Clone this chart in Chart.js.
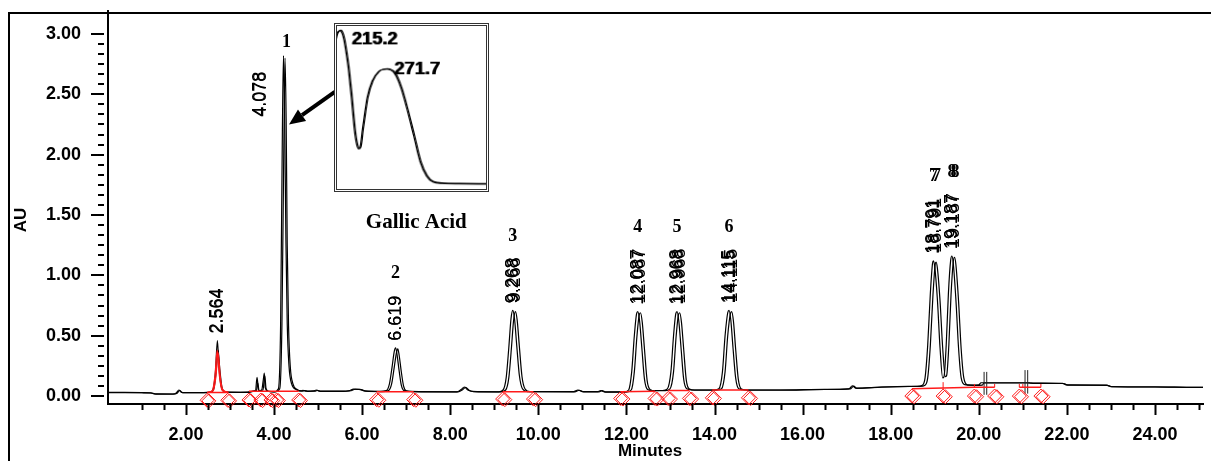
<!DOCTYPE html>
<html><head><meta charset="utf-8">
<script src="https://cdn.jsdelivr.net/npm/chart.js@4.4.1/dist/chart.umd.min.js"></script>
<style>
html,body{margin:0;padding:0;background:#fff;overflow:hidden;}
#wrap{position:relative;width:1211px;height:461px;overflow:hidden;}
#frame{position:absolute;left:8px;top:12px;width:1300px;height:600px;border-top:2px solid #000;border-left:2px solid #000;}
#main{position:absolute;left:0;top:0;}
#inset{position:absolute;left:334px;top:23px;border:3px double #333;background:#fff;}
</style></head><body>
<div id="wrap"><div id="frame"></div><canvas id="main" width="1211" height="461"></canvas><canvas id="inset" width="155" height="169"></canvas></div>
<script>
// ---- chromatogram, run A (minutes, AU) ----
const runATime = [0.23,0.60,1.00,1.20,1.30,1.70,1.78,1.84,1.90,2.00,2.40,2.55,2.62,2.67,2.715,2.75,2.80,2.88,3.00,3.40,3.52,3.58,3.615,3.65,3.72,3.755,3.78,3.80,3.86,4.00,4.10,4.15,4.19,4.215,4.24,4.27,4.30,4.34,4.40,4.50,4.62,4.66,4.72,4.90,4.96,5.02,5.50,5.72,5.80,5.95,6.05,6.40,6.55,6.62,6.68,6.73,6.76,6.79,6.84,6.89,6.95,7.10,8.15,8.25,8.32,8.40,8.50,9.10,9.20,9.27,9.33,9.38,9.42,9.46,9.51,9.57,9.64,9.75,10.80,10.90,11.00,11.35,11.42,11.50,11.95,12.05,12.12,12.18,12.23,12.26,12.30,12.35,12.41,12.48,12.60,12.82,12.93,13.01,13.07,13.12,13.15,13.19,13.24,13.30,13.37,13.50,14.00,14.10,14.18,14.24,14.30,14.33,14.37,14.42,14.48,14.55,14.70,15.50,16.50,17.05,17.13,17.20,17.80,18.40,18.60,18.72,18.78,18.84,18.90,18.95,18.97,19.00,19.06,19.12,19.18,19.21,19.26,19.31,19.36,19.39,19.42,19.48,19.54,19.60,19.68,19.85,20.00,20.05,21.10,21.20,21.90,22.00,22.90,23.00,24.00,24.90,25.09];
const runAAU   = [0.030,0.030,0.029,0.026,0.018,0.017,0.025,0.050,0.030,0.028,0.029,0.032,0.06,0.20,0.46,0.24,0.08,0.035,0.030,0.032,0.040,0.045,0.155,0.045,0.05,0.13,0.19,0.07,0.04,0.035,0.06,0.60,2.20,2.82,2.35,1.30,0.60,0.25,0.10,0.055,0.042,0.048,0.040,0.042,0.050,0.040,0.040,0.045,0.058,0.055,0.042,0.038,0.045,0.10,0.24,0.37,0.40,0.35,0.21,0.09,0.045,0.038,0.035,0.055,0.075,0.050,0.038,0.035,0.05,0.15,0.40,0.64,0.71,0.64,0.42,0.17,0.06,0.037,0.036,0.050,0.036,0.036,0.046,0.034,0.034,0.05,0.20,0.50,0.68,0.70,0.62,0.40,0.14,0.055,0.045,0.046,0.06,0.20,0.50,0.68,0.70,0.62,0.40,0.14,0.06,0.050,0.050,0.06,0.20,0.50,0.69,0.71,0.63,0.40,0.15,0.06,0.050,0.050,0.055,0.060,0.085,0.065,0.075,0.080,0.080,0.09,0.15,0.42,0.85,1.10,1.12,1.07,0.80,0.40,0.15,0.16,0.42,0.85,1.12,1.16,1.10,0.80,0.40,0.15,0.095,0.090,0.092,0.110,0.110,0.107,0.105,0.092,0.090,0.078,0.076,0.072,0.072];
// ---- chromatogram, run B ----
const runBTime = [0.23,0.60,1.00,1.22,1.32,1.72,1.80,1.86,1.92,2.40,2.57,2.64,2.69,2.73,2.77,2.82,2.90,3.40,3.55,3.60,3.63,3.66,3.75,3.79,3.82,3.88,4.02,4.13,4.18,4.225,4.25,4.275,4.30,4.33,4.37,4.43,4.53,4.64,4.70,4.76,4.93,4.99,5.05,5.50,5.75,5.84,5.98,6.08,6.45,6.60,6.67,6.73,6.78,6.81,6.84,6.89,6.94,7.00,7.15,8.18,8.28,8.35,8.43,8.53,9.15,9.26,9.33,9.39,9.44,9.48,9.52,9.57,9.63,9.70,9.81,10.83,10.93,11.03,11.38,11.45,11.53,12.00,12.11,12.18,12.24,12.29,12.32,12.36,12.41,12.47,12.54,12.65,12.88,12.99,13.07,13.13,13.18,13.21,13.25,13.30,13.36,13.43,13.55,14.05,14.16,14.24,14.30,14.36,14.39,14.43,14.48,14.54,14.61,14.75,15.50,16.50,17.08,17.16,17.23,17.80,18.45,18.66,18.78,18.84,18.90,18.96,19.01,19.03,19.06,19.12,19.18,19.24,19.27,19.32,19.37,19.42,19.45,19.48,19.54,19.60,19.66,19.74,19.90,20.08,20.12,21.15,21.25,21.92,22.02,22.92,23.02,24.00,24.90,25.09];
const runBAU   = [0.028,0.028,0.027,0.025,0.016,0.016,0.024,0.046,0.028,0.027,0.032,0.07,0.22,0.38,0.22,0.07,0.034,0.030,0.040,0.042,0.11,0.045,0.05,0.17,0.06,0.038,0.034,0.06,0.60,2.15,2.80,2.30,1.25,0.58,0.24,0.10,0.052,0.040,0.046,0.039,0.040,0.048,0.039,0.038,0.044,0.056,0.053,0.040,0.037,0.045,0.10,0.24,0.36,0.39,0.34,0.20,0.085,0.044,0.037,0.034,0.052,0.072,0.048,0.037,0.034,0.05,0.15,0.40,0.63,0.70,0.63,0.41,0.16,0.058,0.036,0.035,0.048,0.035,0.035,0.044,0.033,0.033,0.05,0.20,0.50,0.67,0.69,0.61,0.39,0.13,0.053,0.044,0.045,0.06,0.20,0.50,0.67,0.69,0.61,0.39,0.13,0.058,0.049,0.049,0.06,0.20,0.50,0.68,0.70,0.62,0.39,0.14,0.058,0.049,0.049,0.054,0.059,0.082,0.064,0.074,0.079,0.080,0.09,0.15,0.42,0.84,1.09,1.11,1.06,0.79,0.40,0.16,0.17,0.42,0.84,1.11,1.15,1.09,0.79,0.39,0.15,0.093,0.089,0.091,0.108,0.108,0.105,0.104,0.091,0.089,0.077,0.075,0.071,0.071];
// ---- integrated (red) peak at 2.564 ----
const redPeakTime = [2.48,2.60,2.66,2.71,2.76,2.82,2.95];
const redPeakAU   = [0.030,0.045,0.17,0.38,0.17,0.05,0.030];
const redPeakBTime = [2.50,2.62,2.68,2.73,2.78,2.84,2.97];
const redPeakBAU   = [0.030,0.045,0.16,0.36,0.16,0.05,0.030];
// ---- integration baselines (red) ----
const baseStartTime = [2.48,3.43,6.33,9.19,11.87,12.95,13.95,18.48,19.90,20.92];
const baseEndTime   = [2.95,4.56,7.17,9.89,12.65,13.43,14.77,19.90,20.36,21.41];
const baseStartAU   = [0.030,0.040,0.035,0.035,0.035,0.045,0.050,0.060,0.072,0.072];
const baseEndAU     = [0.030,0.040,0.035,0.035,0.040,0.045,0.050,0.072,0.072,0.072];
// ---- red event ticks ----
const redTickTime = [19.19,19.90,20.36,20.92,21.00,21.41];
const redTickLow  = [0.060,0.072,0.072,0.072,0.072,0.072];
const redTickHigh = [0.115,0.100,0.100,0.100,0.100,0.100];
// ---- peak start/end markers (diamonds) ----
const markATime = [2.48,2.95,3.43,3.70,3.93,4.06,4.56,6.33,7.17,9.19,9.89,11.87,12.65,12.95,13.43,13.95,14.77,18.48,19.19,19.90,20.36,20.92,21.41];
const markAAU   = [-0.035,-0.035,-0.033,-0.033,-0.033,-0.033,-0.033,-0.030,-0.030,-0.025,-0.025,-0.020,-0.020,-0.020,-0.020,-0.015,-0.015,0.000,0.000,0.000,0.000,0.000,0.000];
const markBTime = [2.52,2.99,3.47,3.74,3.97,4.10,4.60,6.38,7.22,9.24,9.94,11.92,12.70,13.00,13.48,14.00,14.82,18.53,19.24,19.95,20.41,20.97,21.46];
const markBAU   = [-0.040,-0.040,-0.038,-0.038,-0.038,-0.038,-0.038,-0.035,-0.035,-0.030,-0.030,-0.025,-0.025,-0.025,-0.025,-0.020,-0.020,-0.006,-0.006,-0.006,-0.006,-0.006,-0.006];
// ---- black event lines ----
const eventTime = [20.12,20.18,21.05,21.11];
const eventLow  = [0.010,0.010,0.020,0.020];
const eventHigh = [0.200,0.200,0.215,0.215];
// ---- peak labels ----
const retentionLabels = ['2.564','4.078','6.619','9.268','12.087','12.968','14.115','18.791','19.187'];
const peakNumbers     = ['','1','2','3','4','5','6','7','8'];
const labelApexTime   = [2.715,4.215,6.76,9.42,12.26,13.15,14.33,18.97,19.39];
const labelApexAU     = [0.46,2.82,0.40,0.71,0.70,0.70,0.71,1.12,1.16];
// ---- UV spectrum inset (nm, relative absorbance) ----
const specANm  = [209.5,211.0,213.0,215.2,217.5,220.0,222.5,225.0,229.0,232.7,235.4,237.8,240.0,242.5,245.5,248.3,254.2,262.0,271.7,281.5,289.3,297.1,304.9,312.7,320.5,328.3,340.0,360.0,394.6];
const specAAbs = [0.900,0.935,0.955,0.960,0.948,0.905,0.830,0.745,0.558,0.364,0.277,0.248,0.265,0.364,0.470,0.558,0.655,0.713,0.728,0.703,0.616,0.480,0.326,0.170,0.083,0.048,0.040,0.037,0.035];
const specBNm  = [210.8,212.3,214.3,216.5,218.8,221.3,223.8,226.3,230.3,234.0,236.7,239.1,241.3,243.8,246.8,249.6,255.5,263.3,273.0,282.8,290.6,298.4,306.2,314.0,321.8,329.6,341.3,361.3,395.9];
const specBAbs = [0.905,0.938,0.957,0.962,0.950,0.907,0.832,0.747,0.560,0.366,0.279,0.250,0.267,0.366,0.472,0.560,0.657,0.715,0.730,0.705,0.618,0.482,0.328,0.172,0.085,0.050,0.042,0.040,0.038];
const specPeakNm = [215.2,271.7];
const specPeakAbs = [0.960,0.728];
const specPeakLabels = ['215.2','271.7'];
const compoundName = 'Gallic Acid';

// ---------- helpers ----------
const pts = (xs, ys) => xs.map((v,i)=>({x:v,y:ys[i]}));
const segs = (xs0, xs1, y0, y1) => { const out=[]; xs0.forEach((v,i)=>{ out.push({x:v,y:y0[i]},{x:xs1[i],y:y1[i]},{x:xs1[i],y:null}); }); return out; };
const SANS = '"Liberation Sans", Arial, sans-serif';
const SERIF = '"Liberation Serif", "Times New Roman", serif';

const lineDs = (data, color, width, smooth) => ({
  data, borderColor: color, borderWidth: width, pointRadius: 0, fill: false,
  tension: smooth ? 0.4 : 0, cubicInterpolationMode: smooth ? 'monotone' : 'default', spanGaps: false
});
const diamondDs = (data) => ({
  data, showLine: false, pointStyle: 'rectRot', pointRadius: 7, pointBorderWidth: 1,
  pointBorderColor: '#ff1a1a', pointBackgroundColor: 'rgba(0,0,0,0)', clip: false
});

const decor = {
  id: 'decor',
  afterDatasetsDraw(chart, args, o) {
    const {ctx, chartArea: ca, scales: {x, y}} = chart;
    ctx.save();
    // axis tick marks
    ctx.strokeStyle = '#000'; ctx.lineWidth = 2; ctx.beginPath();
    for (let k = 2; k <= 50; k++) {
      const v = k / 2, px = Math.round(x.getPixelForValue(v)) + 0.5;
      const major = k % 4 === 0;
      ctx.moveTo(px, ca.bottom); ctx.lineTo(px, ca.bottom + (major ? 11 : 6));
    }
    for (let k = 0; k <= 36; k++) {
      const v = k / 12, py = Math.round(y.getPixelForValue(v));
      const major = k % 6 === 0;
      ctx.moveTo(ca.left - (major ? 17 : 10), py); ctx.lineTo(ca.left - 4, py);
    }
    ctx.stroke();

    // retention time labels and peak numbers
    ctx.fillStyle = '#000';
    retentionLabels.forEach((txt, i) => {
      const px = x.getPixelForValue(labelApexTime[i]);
      const py = y.getPixelForValue(labelApexAU[i]);
      ctx.font = '18px ' + SANS;
      const w = ctx.measureText(txt).width;
      let ax = px, ay = py - 7;
      if (i === 1) { ax = px - 23; ay = py + 61; }
      const copies = i >= 3 ? [[0,0],[0.6,0],[2.5,-1]] : [[0,0],[0.6,0]];
      copies.forEach(([dx, dy]) => {
        ctx.save(); ctx.translate(ax + dx, ay + dy); ctx.rotate(-Math.PI / 2);
        ctx.textAlign = 'left'; ctx.textBaseline = 'middle'; ctx.fillText(txt, 0, 0); ctx.restore();
      });
      const num = peakNumbers[i];
      if (num) {
        ctx.font = 'bold 18px ' + SERIF; ctx.textAlign = 'center'; ctx.textBaseline = 'middle';
        let nx = px, ny = ay - w - 22;
        if (i === 1) { nx = px + 3; ny = py - 13; }
        ctx.fillText(num, nx, ny);
        if (i >= 7) ctx.fillText(num, nx + 3, ny);
      }
    });

    // arrow from inset to peak 1
    const tx = x.getPixelForValue(o.arrowFrom[0]), ty = y.getPixelForValue(o.arrowFrom[1]);
    const hx = x.getPixelForValue(o.arrowTo[0]), hy = y.getPixelForValue(o.arrowTo[1]);
    const ang = Math.atan2(hy - ty, hx - tx), L = 16, W = 7;
    const bx = hx - Math.cos(ang) * L, by = hy - Math.sin(ang) * L;
    ctx.strokeStyle = '#000'; ctx.lineWidth = 4; ctx.beginPath(); ctx.moveTo(tx, ty); ctx.lineTo(bx, by); ctx.stroke();
    ctx.beginPath(); ctx.moveTo(hx, hy);
    ctx.lineTo(bx + Math.sin(ang) * W, by - Math.cos(ang) * W);
    ctx.lineTo(bx - Math.sin(ang) * W, by + Math.cos(ang) * W);
    ctx.closePath(); ctx.fill();

    // compound name under inset
    ctx.font = 'bold 21px ' + SERIF; ctx.textAlign = 'center'; ctx.textBaseline = 'middle';
    ctx.fillText(compoundName, x.getPixelForValue(o.namePos[0]), y.getPixelForValue(o.namePos[1]));

    // axis titles
    ctx.font = 'bold 17px ' + SANS;
    ctx.fillText('Minutes', 650, 451);
    ctx.save(); ctx.translate(21, 220); ctx.rotate(-Math.PI / 2); ctx.fillText('AU', 0, 0); ctx.restore();
    ctx.restore();
  }
};

const tickFont = {family: SANS, size: 18, weight: 'bold'};
new Chart(document.getElementById('main'), {
  type: 'line',
  data: {
    datasets: [
      lineDs(pts(redPeakTime, redPeakAU), '#ff1a1a', 1.3, true),
      lineDs(pts(redPeakBTime, redPeakBAU), '#ff1a1a', 1.3, true),
      lineDs(segs(baseStartTime, baseEndTime, baseStartAU, baseEndAU), '#ff1a1a', 1.5, false),
      lineDs(segs(redTickTime, redTickTime, redTickLow, redTickHigh), '#ff1a1a', 1, false),
      diamondDs(pts(markATime, markAAU)),
      diamondDs(pts(markBTime, markBAU)),
      lineDs(segs(eventTime, eventTime, eventLow, eventHigh), '#222', 1, false),
      lineDs(pts(runATime, runAAU), '#000', 1.2, true),
      lineDs(pts(runBTime, runBAU), '#000', 1.2, true)
    ]
  },
  options: {
    responsive: false, animation: false, events: [],
    layout: {padding: {top: 11, right: 7, left: 0, bottom: 0}},
    plugins: {legend: {display: false}, tooltip: {enabled: false},
      decor: {arrowFrom: [5.38, 2.52], arrowTo: [4.34, 2.25], namePos: [7.23, 1.434]}},
    scales: {
      x: {type: 'linear', min: 0.231, max: 25.09,
        grid: {display: false}, border: {display: true, color: '#000', width: 2},
        ticks: {stepSize: 2, includeBounds: false, autoSkip: false, maxRotation: 0, padding: 12,
          color: '#000', font: tickFont, callback: v => v.toFixed(2)},
        afterFit: s => { s.height = 57; s.paddingLeft = 0; s.paddingRight = 0; }},
      y: {type: 'linear', min: -0.066, max: 3.19,
        grid: {display: false}, border: {display: true, color: '#000', width: 2},
        ticks: {stepSize: 0.5, includeBounds: false, padding: 19, color: '#000', font: tickFont,
          callback: v => v.toFixed(2)},
        afterFit: s => { s.width = 108; s.paddingTop = 0; s.paddingBottom = 0; }}
    }
  },
  plugins: [decor]
});

// ---------- inset spectrum ----------
const insetText = {
  id: 'insetText',
  afterDatasetsDraw(chart) {
    const {ctx, scales: {x, y}} = chart;
    ctx.save(); ctx.fillStyle = '#000'; ctx.font = 'bold 19px ' + SANS; ctx.textBaseline = 'middle'; ctx.textAlign = 'left';
    const offs = [[12, 9], [8, 0]];
    specPeakLabels.forEach((t, i) => {
      const px = x.getPixelForValue(specPeakNm[i]) + offs[i][0];
      const py = y.getPixelForValue(specPeakAbs[i]) + offs[i][1];
      ctx.fillText(t, px, py); ctx.fillText(t, px + 1, py);
    });
    ctx.restore();
  }
};
new Chart(document.getElementById('inset'), {
  type: 'line',
  data: {datasets: [
    lineDs(pts(specANm, specAAbs), '#000', 1.2, true),
    lineDs(pts(specBNm, specBAbs), '#000', 1.2, true)
  ]},
  options: {
    responsive: false, animation: false, events: [],
    layout: {padding: 0},
    plugins: {legend: {display: false}, tooltip: {enabled: false}},
    scales: {
      x: {type: 'linear', min: 211.7, max: 393, display: false},
      y: {type: 'linear', min: 0.006, max: 0.988, display: false}
    }
  },
  plugins: [insetText]
});
</script></body></html>
